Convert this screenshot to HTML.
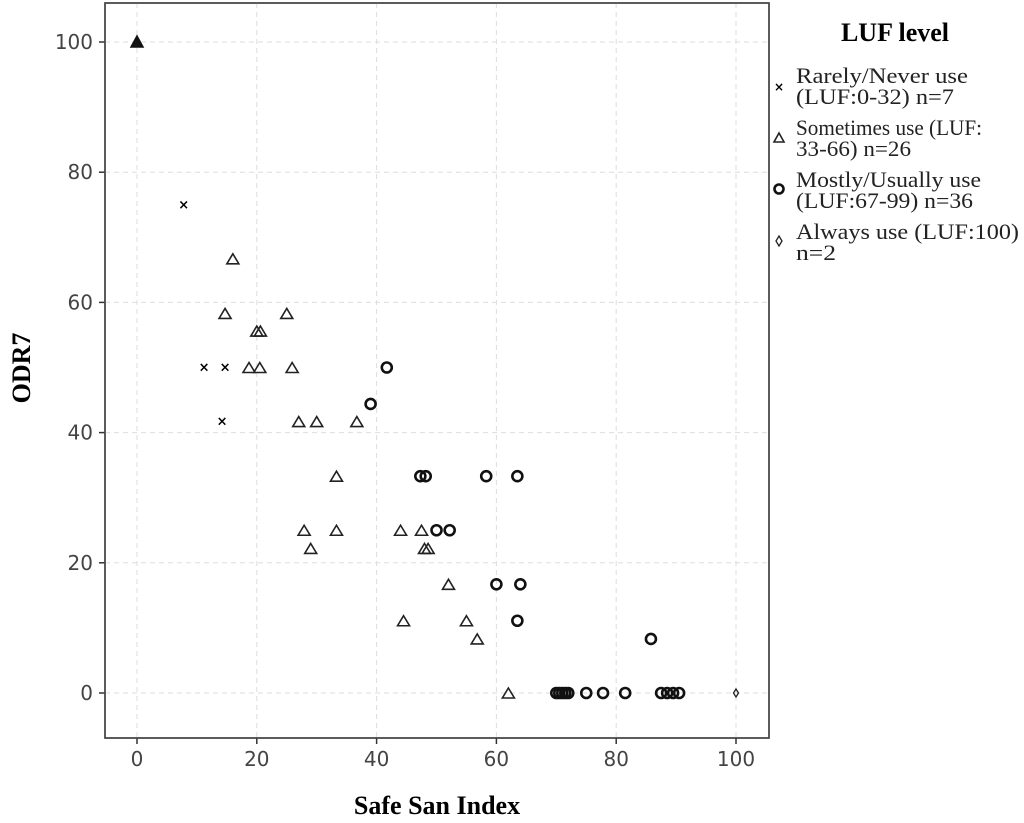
<!DOCTYPE html>
<html><head><meta charset="utf-8"><style>
body{margin:0;background:#fff;width:1024px;height:823px;overflow:hidden}
svg{display:block}
.tk{font-family:"DejaVu Sans","Liberation Sans",sans-serif;font-size:20px;fill:#444}
.lg{font-family:"Liberation Serif",serif;font-size:22px;fill:#222}
</style></head><body>
<svg id="chart" width="1024" height="823">
<g id="grid"></g><g id="marks"></g><g id="axes"></g>
<text x="30" y="368" transform="rotate(-90 30 368)" text-anchor="middle" font-family="Liberation Serif,serif" font-weight="bold" font-size="26">ODR7</text>
<text x="437" y="814" text-anchor="middle" font-family="Liberation Serif,serif" font-weight="bold" font-size="26">Safe San Index</text>
<g>
<text x="895" y="41" text-anchor="middle" font-family="Liberation Serif,serif" font-weight="bold" font-size="26">LUF level</text>
<g>
<text x="779" y="91" font-size="12" font-weight="bold" text-anchor="middle" font-family="DejaVu Sans,sans-serif">×</text>
<text class="lg" x="796" y="83" textLength="172" lengthAdjust="spacingAndGlyphs">Rarely/Never use</text>
<text class="lg" x="796" y="104" textLength="158" lengthAdjust="spacingAndGlyphs">(LUF:0-32) n=7</text></g>
<g>
<path d="M779,133 L784,142 L774,142 Z" fill="none" stroke="#222" stroke-width="1.6"/>
<text class="lg" x="796" y="135" textLength="186" lengthAdjust="spacingAndGlyphs">Sometimes use (LUF:</text>
<text class="lg" x="796" y="156" textLength="115" lengthAdjust="spacingAndGlyphs">33-66) n=26</text></g>
<g>
<circle cx="779" cy="189" r="4.5" fill="none" stroke="#111" stroke-width="2.6"/>
<text class="lg" x="796" y="187" textLength="185" lengthAdjust="spacingAndGlyphs">Mostly/Usually use</text>
<text class="lg" x="796" y="208" textLength="177" lengthAdjust="spacingAndGlyphs">(LUF:67-99) n=36</text></g>
<g>
<path d="M779,236 L782,241 L779,246 L776,241 Z" fill="none" stroke="#222" stroke-width="1.3"/>
<text class="lg" x="796" y="239" textLength="223" lengthAdjust="spacingAndGlyphs">Always use (LUF:100)</text>
<text class="lg" x="796" y="260" textLength="40" lengthAdjust="spacingAndGlyphs">n=2</text></g>
</g>
</svg>
<script>
const xTicks=[0,20,40,60,80,100];
const yTicks=[0,20,40,60,80,100];
const rarelyX=[7.8,11.2,14.7,14.2];
const rarelyY=[75,50,50,41.7];
const someX=[16,14.7,25,20,20.6,18.7,20.5,25.9,27,30,36.7,33.3,27.9,33.3,44,47.5,29,48,48.6,52,44.5,55,56.8,62];
const someY=[66.7,58.3,58.3,55.6,55.6,50,50,50,41.7,41.7,41.7,33.3,25,25,25,25,22.2,22.2,22.2,16.7,11.1,11.1,8.3,0];
const filledX=[0];
const filledY=[100];
const mostX=[41.7,39,47.3,48.2,58.3,63.5,50,52.2,60,64,63.5,85.8,70,70.5,71,71.5,72,75,77.8,81.5,87.5,88.5,89.5,90.5];
const mostY=[50,44.4,33.3,33.3,33.3,33.3,25,25,16.7,16.7,11.1,8.3,0,0,0,0,0,0,0,0,0,0,0,0];
const alwaysX=[100];
const alwaysY=[0];
const L=105,R=769,T=3,B=738;
const sx=v=>137+v*5.99, sy=v=>693-v*6.51;
const NS="http://www.w3.org/2000/svg";
function mk(tag,attrs,parent){const e=document.createElementNS(NS,tag);for(const k in attrs)e.setAttribute(k,attrs[k]);parent.appendChild(e);return e;}
const grid=document.getElementById('grid'),marks=document.getElementById('marks'),axes=document.getElementById('axes');
mk('rect',{x:L,y:T,width:R-L,height:B-T,fill:'#fff',stroke:'#444','stroke-width':1.5},grid);
xTicks.forEach(t=>{const l=mk('line',{x1:sx(t),x2:sx(t),y1:T,y2:B,stroke:'#ddd','stroke-dasharray':'5,4'},grid);


mk('line',{x1:sx(t),x2:sx(t),y1:B,y2:B+6,stroke:'#333','stroke-width':1.5},axes);
const tx=mk('text',{x:sx(t),y:B+28,'text-anchor':'middle',class:'tk'},axes);tx.textContent=t;

});
yTicks.forEach(t=>{const l=mk('line',{y1:sy(t),y2:sy(t),x1:L,x2:R,stroke:'#ddd','stroke-dasharray':'5,4'},grid);


mk('line',{y1:sy(t),y2:sy(t),x1:L-6,x2:L,stroke:'#333','stroke-width':1.5},axes);
const tx=mk('text',{x:L-12,y:sy(t)+7,'text-anchor':'end',class:'tk'},axes);tx.textContent=t;

});
mk('rect',{x:L,y:T,width:R-L,height:B-T,fill:'none',stroke:'#444','stroke-width':1.5},axes);
rarelyX.forEach((v,i)=>{const t=mk('text',{x:sx(v),y:sy(rarelyY[i])+4,'text-anchor':'middle','font-size':13,'font-weight':'bold','font-family':'DejaVu Sans,sans-serif'},marks);t.textContent='×';

});
someX.forEach((v,i)=>{const x=sx(v),y=sy(someY[i]);const p=mk('path',{d:`M${x},${y-5} L${x+6},${y+5} L${x-6},${y+5} Z`,fill:'none',stroke:'#222','stroke-width':1.6},marks);

});
filledX.forEach((v,i)=>{const x=sx(v),y=sy(filledY[i]);const p=mk('path',{d:`M${x},${y-6} L${x+6},${y+5} L${x-6},${y+5} Z`,fill:'#111',stroke:'#111','stroke-width':1.5},marks);

});
mostX.forEach((v,i)=>{const c=mk('circle',{cx:sx(v),cy:sy(mostY[i]),r:5,fill:'none',stroke:'#111','stroke-width':2.6},marks);

});
alwaysX.forEach((v,i)=>{const x=sx(v),y=sy(alwaysY[i]);const p=mk('path',{d:`M${x},${y-4} L${x+2.5},${y} L${x},${y+4} L${x-2.5},${y} Z`,fill:'none',stroke:'#222','stroke-width':1.3},marks);

});
</script>
</body></html>
